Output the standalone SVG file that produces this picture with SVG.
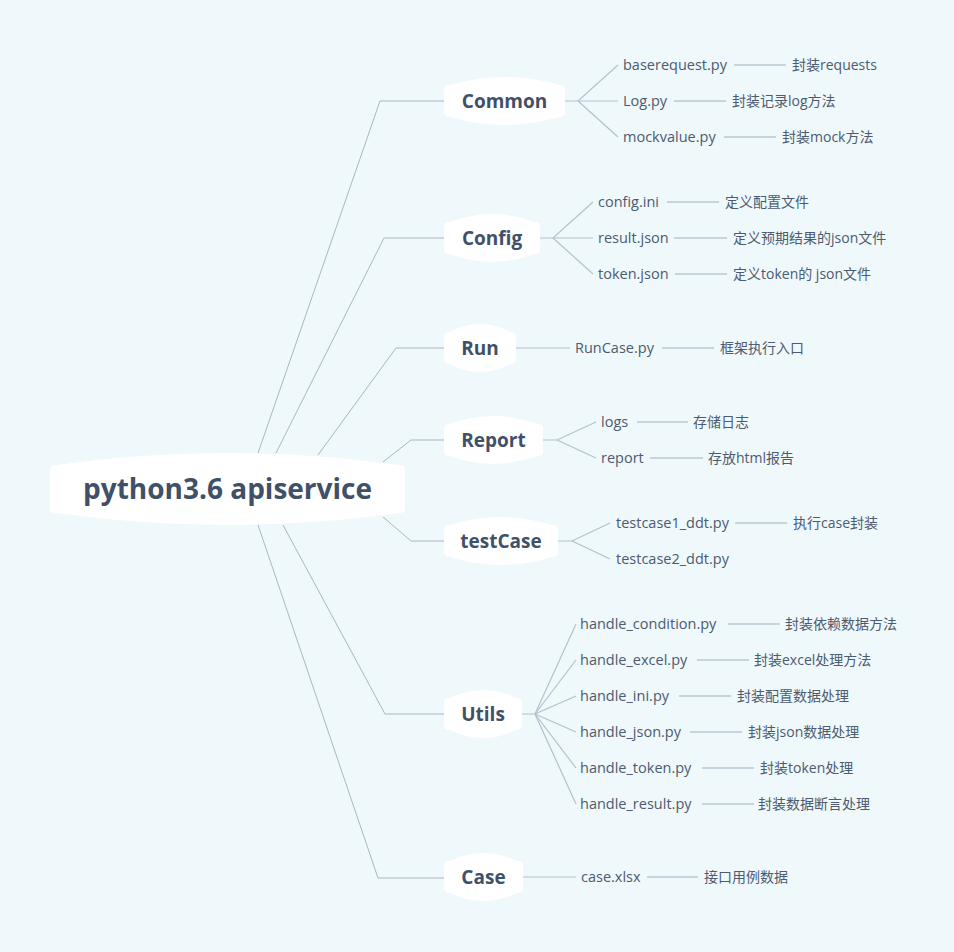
<svg xmlns="http://www.w3.org/2000/svg" width="954" height="952" viewBox="0 0 954 952">
<style>
.bg{fill:#eff8fb}
.node{fill:#ffffff}
.root-t{font-family:"Open Sans","Liberation Sans",sans-serif;font-weight:700;font-size:28px;fill:#3f5068}
.nt{font-family:"Open Sans","Liberation Sans",sans-serif;font-weight:700;font-size:19px;fill:#3f5068}
.ct{font-family:"Open Sans","Liberation Sans","Noto Sans CJK SC",sans-serif;font-size:14.5px;fill:#4d5b70}
.gt{font-family:"Open Sans","Liberation Sans","Noto Sans CJK SC",sans-serif;font-size:14px;fill:#4d5b70}
.l1{stroke:#a9b6c4;stroke-width:1;fill:none}
.l2{stroke:#b4c0cd;stroke-width:1.2;fill:none}
.l3{stroke:#bcc7d3;stroke-width:1.5;fill:none}
</style>
<rect class="bg" x="0" y="0" width="954" height="952"/>
<g id="connectors">
<polyline class="l1" points="258,453 380,101 444,101"/>
<polyline class="l1" points="276,453 384,238 444,238"/>
<polyline class="l1" points="318,455 396,348 444,348"/>
<polyline class="l1" points="383,462 411,440 444,440"/>
<polyline class="l1" points="383,517 411,541 444,541"/>
<polyline class="l1" points="283,525 385,714 444,714"/>
<polyline class="l1" points="258,525 378,878 444,878"/>
<!-- Common -->
<polyline class="l2" points="565,101 578,101 618,65"/>
<line class="l2" x1="578" y1="101" x2="618" y2="101"/>
<line class="l2" x1="578" y1="101" x2="618" y2="137"/>
<line class="l3" x1="734" y1="65" x2="786" y2="65"/>
<line class="l3" x1="674" y1="101" x2="726" y2="101"/>
<line class="l3" x1="724" y1="137" x2="776" y2="137"/>
<!-- Config -->
<polyline class="l2" points="540,238 553,238 593,202"/>
<line class="l2" x1="553" y1="238" x2="593" y2="238"/>
<line class="l2" x1="553" y1="238" x2="593" y2="274"/>
<line class="l3" x1="667" y1="202" x2="719" y2="202"/>
<line class="l3" x1="674" y1="238" x2="727" y2="238"/>
<line class="l3" x1="675" y1="274" x2="727" y2="274"/>
<!-- Run -->
<line class="l2" x1="516" y1="348" x2="570" y2="348"/>
<line class="l3" x1="662" y1="348" x2="714" y2="348"/>
<!-- Report -->
<polyline class="l2" points="543,440 557,440 596,422"/>
<line class="l2" x1="557" y1="440" x2="596" y2="458"/>
<line class="l3" x1="637" y1="422" x2="688" y2="422"/>
<line class="l3" x1="650" y1="458" x2="703" y2="458"/>
<!-- testCase -->
<polyline class="l2" points="558,541 572,541 610,523"/>
<line class="l2" x1="572" y1="541" x2="610" y2="559"/>
<line class="l3" x1="735" y1="523" x2="787" y2="523"/>
<!-- Utils -->
<polyline class="l2" points="522,714 535,714 576,624"/>
<line class="l2" x1="535" y1="714" x2="576" y2="660"/>
<line class="l2" x1="535" y1="714" x2="576" y2="696"/>
<line class="l2" x1="535" y1="714" x2="576" y2="732"/>
<line class="l2" x1="535" y1="714" x2="576" y2="768"/>
<line class="l2" x1="535" y1="714" x2="576" y2="804"/>
<line class="l3" x1="728" y1="624" x2="780" y2="624"/>
<line class="l3" x1="697" y1="660" x2="749" y2="660"/>
<line class="l3" x1="679" y1="696" x2="731" y2="696"/>
<line class="l3" x1="690" y1="732" x2="742" y2="732"/>
<line class="l3" x1="702" y1="768" x2="754" y2="768"/>
<line class="l3" x1="702" y1="804" x2="754" y2="804"/>
<!-- Case -->
<line class="l2" x1="523" y1="877" x2="576" y2="877"/>
<line class="l3" x1="647" y1="877" x2="698" y2="877"/>
</g>
<g id="root">
<path class="node" d="M50,469 Q50,465 56,465 Q227,441 399,465 Q405,465 405,469 L405,509 Q405,513 399,513 Q227,537 56,513 Q50,513 50,509 Z"/>
<text class="root-t" x="227.5" y="499" text-anchor="middle">python3.6 apiservice</text>
</g>
<g id="node-common">
<path class="node" d="M444,89 Q444,85 450,85 Q504.5,69 559,85 Q565,85 565,89 L565,113 Q565,117 559,117 Q504.5,133 450,117 Q444,117 444,113 Z"/>
<text class="nt" x="504.5" y="108" text-anchor="middle">Common</text>
</g>
<g id="node-config">
<path class="node" d="M444,226 Q444,222 450,222 Q492,206 534,222 Q540,222 540,226 L540,250 Q540,254 534,254 Q492,270 450,254 Q444,254 444,250 Z"/>
<text class="nt" x="492" y="245" text-anchor="middle">Config</text>
</g>
<g id="node-run">
<path class="node" d="M444,336 Q444,332 450,332 Q480,316 510,332 Q516,332 516,336 L516,360 Q516,364 510,364 Q480,380 450,364 Q444,364 444,360 Z"/>
<text class="nt" x="480" y="355" text-anchor="middle">Run</text>
</g>
<g id="node-report">
<path class="node" d="M444,428 Q444,424 450,424 Q493.5,408 537,424 Q543,424 543,428 L543,452 Q543,456 537,456 Q493.5,472 450,456 Q444,456 444,452 Z"/>
<text class="nt" x="493.5" y="447" text-anchor="middle">Report</text>
</g>
<g id="node-testcase">
<path class="node" d="M444,529 Q444,525 450,525 Q501,509 552,525 Q558,525 558,529 L558,553 Q558,557 552,557 Q501,573 450,557 Q444,557 444,553 Z"/>
<text class="nt" x="501" y="548" text-anchor="middle">testCase</text>
</g>
<g id="node-utils">
<path class="node" d="M444,702 Q444,698 450,698 Q483,682 516,698 Q522,698 522,702 L522,726 Q522,730 516,730 Q483,746 450,730 Q444,730 444,726 Z"/>
<text class="nt" x="483" y="721" text-anchor="middle">Utils</text>
</g>
<g id="node-case">
<path class="node" d="M444,865 Q444,861 450,861 Q483.5,845 517,861 Q523,861 523,865 L523,889 Q523,893 517,893 Q483.5,909 450,893 Q444,893 444,889 Z"/>
<text class="nt" x="483.5" y="884" text-anchor="middle">Case</text>
</g>
<g id="common-children">
<text class="ct" x="623" y="70">baserequest.py</text>
<text class="gt" x="792" y="70">封装requests</text>
<text class="ct" x="623" y="106">Log.py</text>
<text class="gt" x="732" y="106">封装记录log方法</text>
<text class="ct" x="623" y="142">mockvalue.py</text>
<text class="gt" x="782" y="142">封装mock方法</text>
</g>
<g id="config-children">
<text class="ct" x="598" y="207">config.ini</text>
<text class="gt" x="725" y="207">定义配置文件</text>
<text class="ct" x="598" y="243">result.json</text>
<text class="gt" x="733" y="243">定义预期结果的json文件</text>
<text class="ct" x="598" y="279">token.json</text>
<text class="gt" x="733" y="279">定义token的 json文件</text>
</g>
<g id="run-children">
<text class="ct" x="575" y="353">RunCase.py</text>
<text class="gt" x="720" y="353">框架执行入口</text>
</g>
<g id="report-children">
<text class="ct" x="601" y="427">logs</text>
<text class="gt" x="693" y="427">存储日志</text>
<text class="ct" x="601" y="463">report</text>
<text class="gt" x="708" y="463">存放html报告</text>
</g>
<g id="testcase-children">
<text class="ct" x="616" y="528">testcase1_ddt.py</text>
<text class="gt" x="793" y="528">执行case封装</text>
<text class="ct" x="616" y="564">testcase2_ddt.py</text>
</g>
<g id="utils-children">
<text class="ct" x="580" y="629">handle_condition.py</text>
<text class="gt" x="785" y="629">封装依赖数据方法</text>
<text class="ct" x="580" y="665">handle_excel.py</text>
<text class="gt" x="754" y="665">封装excel处理方法</text>
<text class="ct" x="580" y="701">handle_ini.py</text>
<text class="gt" x="737" y="701">封装配置数据处理</text>
<text class="ct" x="580" y="737">handle_json.py</text>
<text class="gt" x="748" y="737">封装json数据处理</text>
<text class="ct" x="580" y="773">handle_token.py</text>
<text class="gt" x="760" y="773">封装token处理</text>
<text class="ct" x="580" y="809">handle_result.py</text>
<text class="gt" x="758" y="809">封装数据断言处理</text>
</g>
<g id="case-children">
<text class="ct" x="581" y="882">case.xlsx</text>
<text class="gt" x="704" y="882">接口用例数据</text>
</g>
</svg>
